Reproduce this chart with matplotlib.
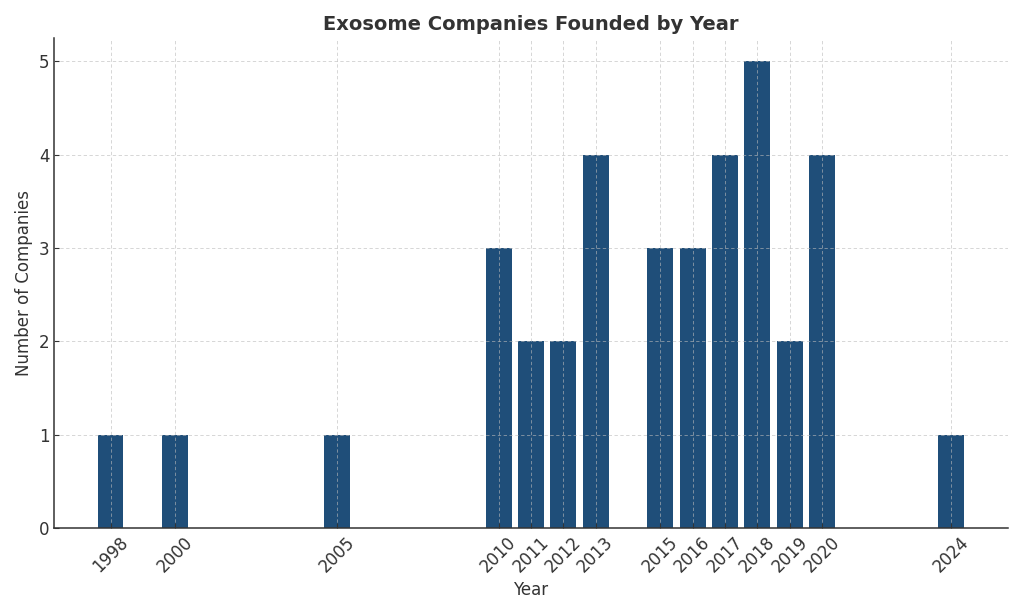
import matplotlib
matplotlib.use("Agg")
import matplotlib.pyplot as plt

years = [1998, 2000, 2005, 2010, 2011, 2012, 2013, 2015, 2016, 2017, 2018, 2019, 2020, 2024]
counts = [1, 1, 1, 3, 2, 2, 4, 3, 3, 4, 5, 2, 4, 1]

fig, ax = plt.subplots(figsize=(10.24, 6.14), dpi=100)
ax.bar(years, counts, width=0.8, color="#1f4e79", zorder=2)

ax.set_title("Exosome Companies Founded by Year", fontsize=14, fontweight="bold", color="#333333")
ax.set_xlabel("Year", fontsize=12, color="#333333")
ax.set_ylabel("Number of Companies", fontsize=12, color="#333333")
ax.set_xticks(years)
ax.set_xticklabels([str(y) for y in years], rotation=45, fontsize=12)
ax.tick_params(axis="both", labelsize=12, direction="in", colors="#333333")
ax.grid(True, linestyle=(0, (4, 3)), color="#bbbbbb", linewidth=0.6, alpha=0.7, zorder=3)
ax.set_axisbelow(False)
for s in ("top", "right"):
    ax.spines[s].set_visible(False)
for s in ("left", "bottom"):
    ax.spines[s].set_color("#333333")
    ax.spines[s].set_linewidth(1.1)

fig.subplots_adjust(left=0.053, right=0.984, top=0.938, bottom=0.14)
fig.savefig("out.png", dpi=100)
